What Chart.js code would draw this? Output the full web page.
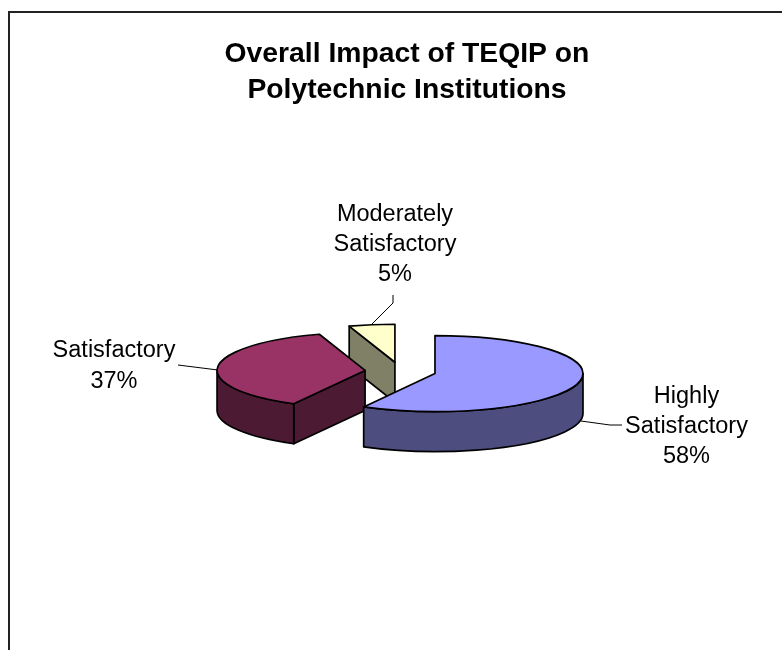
<!DOCTYPE html>
<html><head><meta charset="utf-8">
<style>html,body{margin:0;padding:0;background:#fff;overflow:hidden}#w{width:782px;height:650px;position:relative}</style>
<script src="https://cdn.jsdelivr.net/npm/chart.js@4/dist/chart.umd.min.js"></script>
</head><body><div id="w"><canvas id="c"></canvas></div>
<script>
const titleLines = ['Overall Impact of TEQIP on', 'Polytechnic Institutions'];
const categories = ['Highly Satisfactory', 'Satisfactory', 'Moderately Satisfactory'];
const values = [58, 37, 5];
const topColors = ['#9999FF', '#993366', '#FFFFCC'];
const sideColors = ['#4D4D80', '#4D1A33', '#808066'];
const labelLines = [['Highly', 'Satisfactory', '58%'], ['Satisfactory', '37%'], ['Moderately', 'Satisfactory', '5%']];
const labelCenters = [[686.5, 397], [114, 351], [395, 215]];
const labelGaps = [30, 31, 30];
const leaders = [[[581,421],[610,425],[622,425]], [[178,365],[218,370]], [[393,295],[393,303],[371,325]]];
const view = {cx: 400.5, cy: 371.3, tilt: 0.257, depth: 40, explode: 35.6, radius: 148};

const pie3d = {
  id: 'pie3d',
  beforeDraw(chart) {
    const g = chart.ctx;
    g.save(); g.fillStyle = '#fff'; g.fillRect(0, 0, chart.width, chart.height);
    g.strokeStyle = '#222'; g.lineWidth = 2;
    g.strokeRect(9, 12, 800, 700);
    g.restore();
  },
  beforeDatasetDraw(chart, args) {
    const g = chart.ctx, arcs = args.meta.data;
    const order = [2, 1, 0];
    const place = (a) => {
      const mid = (a.startAngle + a.endAngle) / 2;
      g.translate(view.cx, view.cy);
      g.scale(1, view.tilt);
      g.translate(Math.cos(mid) * view.explode, Math.sin(mid) * view.explode);
      g.translate(-a.x, -a.y);
    };
    const outline = (fill) => {
      g.save(); g.setTransform(1,0,0,1,0,0);
      if (fill) { g.fillStyle = fill; g.fill(); }
      g.strokeStyle = '#000'; g.lineWidth = 1.7; g.lineJoin = 'round'; g.stroke();
      g.restore();
    };
    for (const i of order) {
      const a = arcs[i], r = a.outerRadius;
      const d = view.depth / view.tilt;
      // only the cut faces that look towards the viewer
      const faces = [];
      if (Math.cos(a.startAngle) < -1e-6) faces.push(a.startAngle);
      if (Math.cos(a.endAngle) > 1e-6) faces.push(a.endAngle);
      for (const ang of faces) {
        g.save(); place(a);
        g.beginPath();
        const ex = a.x + Math.cos(ang) * r, ey = a.y + Math.sin(ang) * r;
        g.moveTo(a.x, a.y); g.lineTo(ex, ey); g.lineTo(ex, ey + d); g.lineTo(a.x, a.y + d); g.closePath();
        outline(sideColors[i]);
        g.restore();
      }
      // outer rim (front half only)
      const s = Math.max(a.startAngle, 0), e = Math.min(a.endAngle, Math.PI);
      if (e > s) {
        g.save(); place(a);
        g.beginPath();
        g.arc(a.x, a.y, r, s, e);
        g.lineTo(a.x + Math.cos(e) * r, a.y + Math.sin(e) * r + d);
        g.arc(a.x, a.y + d, r, e, s, true);
        g.closePath();
        outline(sideColors[i]);
        g.restore();
      }
      // top face, drawn by the library's own arc element
      g.save(); place(a); a.draw(g); g.restore();
      g.save(); place(a);
      g.beginPath(); g.moveTo(a.x, a.y); g.arc(a.x, a.y, r, a.startAngle, a.endAngle); g.closePath();
      outline(null);
      g.restore();
    }
    return false;
  },
  afterDraw(chart) {
    const g = chart.ctx;
    g.save();
    g.strokeStyle = '#000'; g.lineWidth = 1;
    for (const l of leaders) {
      g.beginPath(); l.forEach((p, i) => i ? g.lineTo(p[0], p[1]) : g.moveTo(p[0], p[1])); g.stroke();
    }
    g.fillStyle = '#000'; g.font = '23.5px "Liberation Sans"'; g.textAlign = 'center'; g.textBaseline = 'middle';
    labelLines.forEach((lines, i) => lines.forEach((t, j) =>
      g.fillText(t, labelCenters[i][0], labelCenters[i][1] + j * labelGaps[i])));
    g.restore();
  }
};

new Chart(document.getElementById('c'), {
  type: 'pie',
  data: {labels: categories, datasets: [{data: values, backgroundColor: topColors, borderWidth: 0}]},
  options: {
    responsive: true, maintainAspectRatio: false, animation: false, events: [],
    radius: view.radius,
    layout: {padding: {left: 32, right: 0, top: 0, bottom: 0}},
    plugins: {
      legend: {display: false}, tooltip: {enabled: false},
      title: {display: true, text: titleLines, color: '#000',
        font: {family: '"Liberation Sans"', size: 28.3, weight: 'bold', lineHeight: 1.27}, padding: {top: 36, bottom: 10}}
    }
  },
  plugins: [pie3d]
});
</script></body></html>
